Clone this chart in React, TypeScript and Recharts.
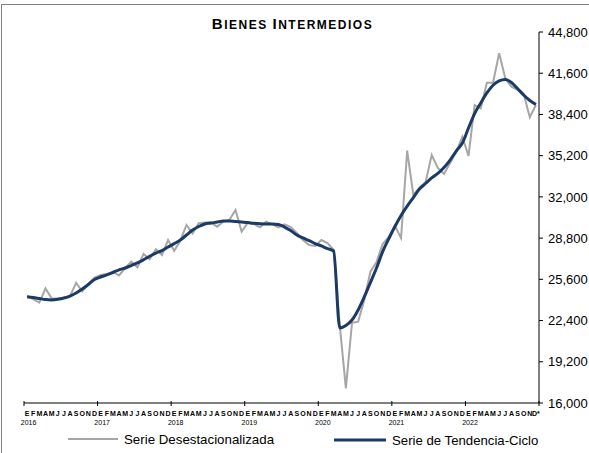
import React from "react";
import { LineChart, Line, XAxis, YAxis } from "recharts";

const MONTH_LETTERS = ["E", "F", "M", "A", "M", "J", "J", "A", "S", "O", "N", "D"];
const YEARS = ["2016", "2017", "2018", "2019", "2020", "2021", "2022"];
const Y_TICKS = [16000, 19200, 22400, 25600, 28800, 32000, 35200, 38400, 41600, 44800];

// Serie desestacionalizada, ene 2016 - dic 2022
const DESEST = [
  24300, 24070, 23790, 24900, 24130, 24100, 24150, 24300, 25320, 24660, 25240, 25740,
  25940, 26010, 26170, 25900, 26480, 26970, 26530, 27570, 27160, 27930, 27490, 28650,
  27820, 28600, 29820, 29170, 29950, 30010, 30010, 29690, 30070, 30210, 30980, 29300,
  29990, 29900, 29640, 30070, 29870, 29640, 29870, 29660, 29200, 28650, 28270, 28190,
  28650, 28420, 27880, 22050, 17140, 22230, 22310, 24000, 26190, 26950, 28340, 28900,
  29750, 28800, 35590, 32150, 32690, 33160, 35250, 34240, 33780, 34630, 35490, 36670,
  35170, 39130, 38880, 40860, 40860, 43150, 41210, 40550, 40300, 39990, 38180, 39130,
];

// Serie de tendencia-ciclo
const TENDENCIA = [
  24250, 24190, 24110, 24030, 24000, 24050, 24150, 24300, 24540, 24850, 25200, 25590,
  25780, 25940, 26130, 26330, 26480, 26670, 26870, 27120, 27390, 27640, 27830, 28110,
  28370, 28650, 29040, 29430, 29700, 29900, 29970, 30050, 30130, 30130, 30090, 30050,
  30010, 29950, 29910, 29900, 29900, 29860, 29660, 29390, 29040, 28810, 28610, 28380,
  28190, 27990, 27800, 21820, 22020, 22440, 23220, 24230, 25350, 26480, 27750, 28750,
  29700, 30560, 31290, 31950, 32610, 33040, 33470, 33820, 34280, 34860, 35560, 36180,
  37350, 38470, 39290, 40070, 40670, 41000, 41110, 40880, 40410, 39910, 39480, 39170,
];

const FONT = "'Liberation Sans', Arial, sans-serif";
const GRAY = "#a6a6a6";
const NAVY = "#1b3a66";

const data = DESEST.map((v, i) => ({ x: i + 0.5, desest: v, tend: TENDENCIA[i] }));

// month centres plus year boundaries
const xTicks: number[] = [];
for (let i = 0; i <= 84; i++) {
  if (i % 12 === 0) xTicks.push(i);
  if (i < 84) xTicks.push(i + 0.5);
}

function MonthTick(props: any) {
  const { x, y, payload } = props;
  const v = payload.value;
  if (Number.isInteger(v)) {
    return <line x1={x} x2={x} y1={y - 2} y2={y + 3} stroke="#000" strokeWidth={1} />;
  }
  const i = Math.floor(v);
  const m = i % 12;
  const label = i === 83 ? "D*" : MONTH_LETTERS[m];
  return (
    <g>
      <text x={x} y={y + 12.5} textAnchor="middle" fontSize={7} fontWeight="bold" fontFamily={FONT} fill="#000">
        {label}
      </text>
      {m === 0 && (
        <text x={x + 1.5} y={y + 21.5} textAnchor="middle" fontSize={7} fontFamily={FONT} fill="#000">
          {YEARS[i / 12]}
        </text>
      )}
    </g>
  );
}

export default function App() {
  return (
    <div
      style={{
        position: "absolute",
        left: 0,
        top: 0,
        width: 589,
        height: 453,
        background: "#fff",
        overflow: "hidden",
        fontFamily: FONT,
      }}
    >
      <div
        style={{
          position: "absolute",
          left: 1,
          top: 4,
          width: 588,
          height: 449,
          borderLeft: "1px solid #808080",
          borderTop: "1px solid #808080",
          boxSizing: "border-box",
        }}
      />
      <LineChart
        width={589}
        height={453}
        data={data}
        margin={{ top: 32, right: 2, left: 24, bottom: 20 }}
        style={{ position: "absolute", left: 0, top: 0 }}
      >
        <XAxis
          dataKey="x"
          type="number"
          domain={[0, 84]}
          ticks={xTicks}
          interval={0}
          height={30}
          tickLine={false}
          tickSize={0}
          tickMargin={0}
          axisLine={{ stroke: "#000", strokeWidth: 1 }}
          tick={<MonthTick />}
        />
        <YAxis
          orientation="right"
          domain={[16000, 44800]}
          ticks={Y_TICKS}
          interval={0}
          width={48}
          tickSize={4}
          tickMargin={5}
          axisLine={{ stroke: "#000", strokeWidth: 1 }}
          tickLine={{ stroke: "#000", strokeWidth: 1 }}
          tick={{ fontSize: 13, fill: "#000", fontFamily: FONT, textAnchor: "start" }}
          tickFormatter={(v: number) => v.toLocaleString("en-US")}
        />
        <Line
          dataKey="desest"
          type="linear"
          stroke={GRAY}
          strokeWidth={2}
          dot={false}
          isAnimationActive={false}
        />
        <Line
          dataKey="tend"
          type="monotone"
          stroke={NAVY}
          strokeWidth={3}
          dot={false}
          isAnimationActive={false}
        />
      </LineChart>
      <svg
        width={589}
        height={453}
        style={{ position: "absolute", left: 0, top: 0, pointerEvents: "none" }}
      >
        <text x={292.5} y={28.5} textAnchor="middle" fontFamily={FONT} fontWeight="bold" fill="#000" letterSpacing={1.5}>
          <tspan fontSize={15}>B</tspan>
          <tspan fontSize={12}>IENES </tspan>
          <tspan fontSize={15}>I</tspan>
          <tspan fontSize={12}>NTERMEDIOS</tspan>
        </text>
        <line x1={68} x2={118} y1={439} y2={439} stroke={GRAY} strokeWidth={2} />
        <text x={124} y={443.5} fontSize={13.3} fontFamily={FONT} fill="#000">
          Serie Desestacionalizada
        </text>
        <line x1={334} x2={386} y1={440} y2={440} stroke={NAVY} strokeWidth={3} />
        <text x={392} y={444.5} fontSize={13.2} fontFamily={FONT} fill="#000">
          Serie de Tendencia-Ciclo
        </text>
      </svg>
    </div>
  );
}
